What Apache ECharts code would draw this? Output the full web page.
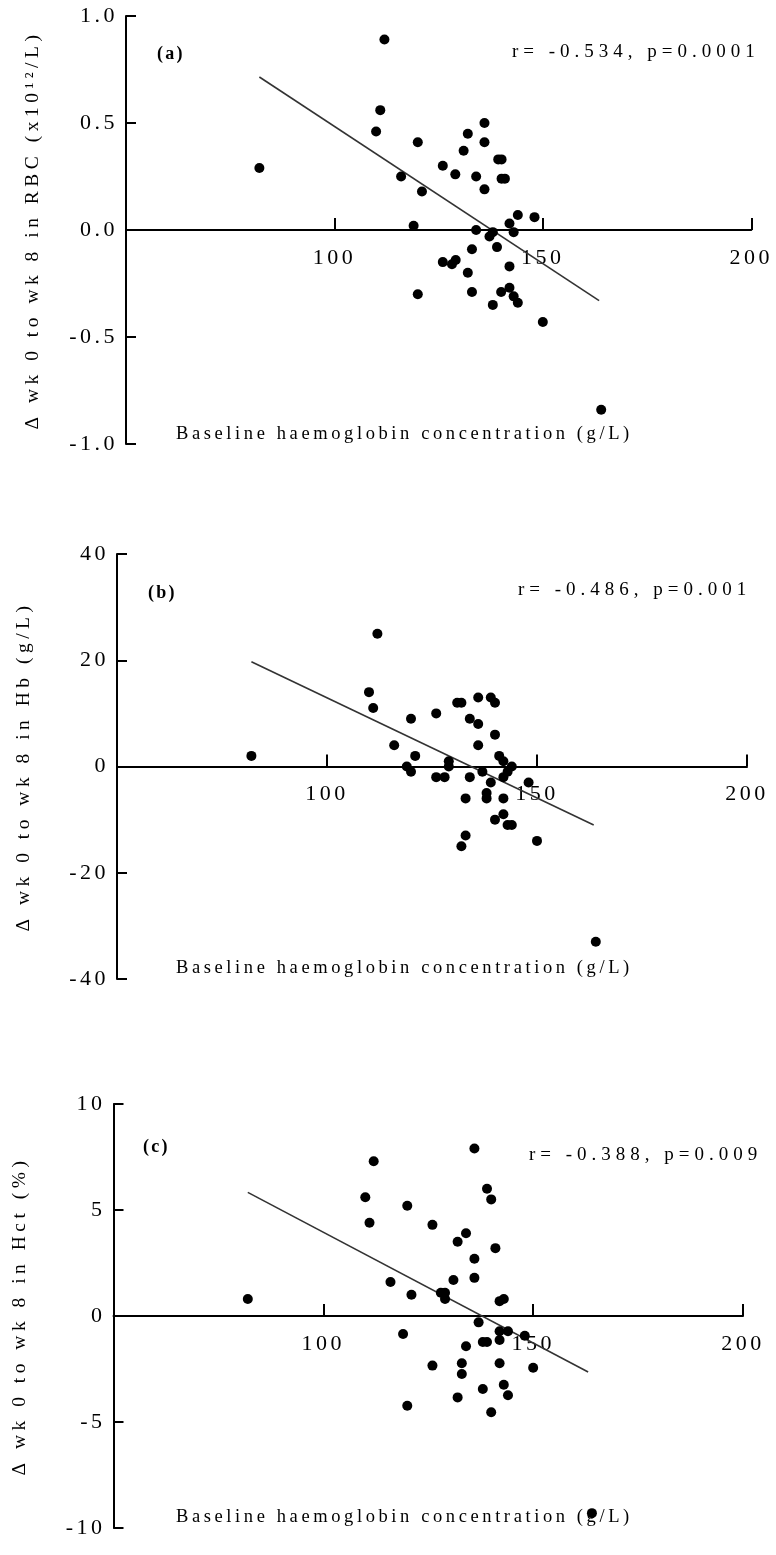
<!DOCTYPE html>
<html><head><meta charset="utf-8">
<script src="https://cdn.jsdelivr.net/npm/echarts@6/dist/echarts.min.js"></script>
<style>html,body{margin:0;padding:0;background:#fff}#c{width:776px;height:1555px}</style>
</head><body><div id="c"></div>
<script>
// ---------- data ----------
const xTicks = [50, 100, 150, 200];
const panelLabels = ['(a)', '(b)', '(c)'];
const statTexts = ['r= -0.534, p=0.0001', 'r= -0.486, p=0.001', 'r= -0.388, p=0.009'];
const yNames = ['\u0394 wk 0 to wk 8 in RBC (x10\u00b9\u00b2/L)', '\u0394 wk 0 to wk 8 in Hb (g/L)', '\u0394 wk 0 to wk 8 in Hct (%)'];
const xName = 'Baseline haemoglobin concentration (g/L)';

const rbcYTicks = [-1.0, -0.5, 0.0, 0.5, 1.0];
const hbYTicks = [-40, -20, 0, 20, 40];
const hctYTicks = [-10, -5, 0, 5, 10];

const rbcBaseline = [82, 112, 111, 110, 120, 132, 136, 136, 131, 126, 129, 134, 139.3, 140.1, 140.1, 140.9, 136, 116, 121, 119, 144, 148, 142, 134, 143, 138, 137.2, 139, 133, 126, 128.2, 129.1, 132, 142, 120, 133, 140, 142, 143, 144, 138, 150, 164];
const rbcChange   = [0.29, 0.89, 0.56, 0.46, 0.41, 0.45, 0.50, 0.41, 0.37, 0.30, 0.26, 0.25, 0.33, 0.33, 0.24, 0.24, 0.19, 0.25, 0.18, 0.02, 0.07, 0.06, 0.03, 0.00, -0.01, -0.01, -0.03, -0.08, -0.09, -0.15, -0.16, -0.14, -0.20, -0.17, -0.30, -0.29, -0.29, -0.27, -0.31, -0.34, -0.35, -0.43, -0.84];

const hbBaseline = [82, 112, 110, 111, 120, 126, 116, 121, 119, 120, 126, 128, 129, 129, 131, 132, 136, 139, 140, 134, 136, 140, 136, 141, 142, 144, 143, 142, 137, 134, 139, 148, 133, 138, 138, 142, 142, 140, 143, 144, 133, 132, 150, 164];
const hbChange   = [2, 25, 14, 11, 9, 10, 4, 2, 0, -1, -2, -2, 1, 0, 12, 12, 13, 13, 12, 9, 8, 6, 4, 2, 1, 0, -1, -2, -1, -2, -3, -3, -6, -5, -6, -6, -9, -10, -11, -11, -13, -15, -14, -33];

const hctBaseline = [136, 112, 110, 111, 120, 126, 139, 140, 134, 132, 141, 136, 136, 131, 116, 121, 128, 129, 129, 82, 142, 143, 137, 119, 142, 144, 148, 138, 139, 142, 134, 126, 133, 133, 142, 150, 143, 138, 144, 132, 120, 140, 164];
const hctChange   = [7.9, 7.3, 5.6, 4.4, 5.2, 4.3, 6.0, 5.5, 3.9, 3.5, 3.2, 2.7, 1.8, 1.7, 1.6, 1.0, 1.1, 1.1, 0.8, 0.8, 0.7, 0.8, -0.3, -0.85, -0.72, -0.72, -0.93, -1.23, -1.23, -1.13, -1.43, -2.34, -2.23, -2.74, -2.23, -2.44, -3.24, -3.44, -3.74, -3.84, -4.23, -4.54, -9.3];

// regression line end points
const rbcFitX = [82, 163.5], rbcFitY = [0.715, -0.33];
const hbFitX = [82, 163.5],  hbFitY = [19.7, -11.0];
const hctFitX = [82, 163.1], hctFitY = [5.83, -2.64];

// ---------- loose letter spacing like the reference typesetting ----------
// keyed by font size (px) -> spacing (px)
const SPACING = { '18': 2.2, '18.5': 3.6, '19': 5.0, '19.5': 4.5, '22': 3.5 };
function applyLS(ctx) {
  const m = /(\d+(?:\.\d+)?)px/.exec(ctx.font || '');
  const key = m ? String(parseFloat(m[1])) : '';
  const sp = SPACING[key] != null ? SPACING[key] : 0;
  try { ctx.letterSpacing = sp + 'px'; } catch (e) {}
}
['fillText', 'strokeText', 'measureText'].forEach(fn => {
  const orig = CanvasRenderingContext2D.prototype[fn];
  CanvasRenderingContext2D.prototype[fn] = function (...a) { applyLS(this); return orig.apply(this, a); };
});

// ---------- chart ----------
const FONT = '"Liberation Serif", "Times New Roman", serif';
const zip = (xs, ys) => xs.map((x, i) => [x, ys[i]]);

const grids = [
  { left: 126, top: 16, width: 626, height: 428 },
  { left: 117, top: 554, width: 630, height: 425 },
  { left: 113, top: 1104, width: 630, height: 424 }
];
const yTickSets = [rbcYTicks, hbYTicks, hctYTicks];
const yFmt = [v => v.toFixed(1), v => String(v), v => String(v)];
const scatterData = [zip(rbcBaseline, rbcChange), zip(hbBaseline, hbChange), zip(hctBaseline, hctChange)];
const fitData = [zip(rbcFitX, rbcFitY), zip(hbFitX, hbFitY), zip(hctFitX, hctFitY)];

const option = {
  backgroundColor: '#fff',
  animation: false,
  grid: grids,
  xAxis: grids.map((g, i) => ({
    gridIndex: i, type: 'value', min: xTicks[0], max: xTicks[xTicks.length - 1], interval: xTicks[1] - xTicks[0],
    position: 'bottom', offset: -g.height / 2,
    axisLine: { show: true, onZero: false, lineStyle: { color: '#000', width: 2 } },
    axisTick: { show: true, inside: true, length: 12, lineStyle: { color: '#000', width: 2 } },
    axisLabel: { show: true, margin: 15, color: '#000', fontFamily: FONT, fontSize: 22,
      formatter: v => (v === xTicks[0] ? '' : String(v)) },
    splitLine: { show: false }
  })),
  yAxis: grids.map((g, i) => ({
    gridIndex: i, type: 'value',
    min: yTickSets[i][0], max: yTickSets[i][yTickSets[i].length - 1], interval: yTickSets[i][1] - yTickSets[i][0],
    axisLine: { show: true, onZero: false, lineStyle: { color: '#000', width: 2 } },
    axisTick: { show: true, inside: true, length: 10, lineStyle: { color: '#000', width: 2 } },
    axisLabel: { show: true, margin: 8, color: '#000', fontFamily: FONT, fontSize: 22, formatter: yFmt[i] },
    splitLine: { show: false },
    name: yNames[i], nameLocation: 'middle', nameRotate: 90, nameGap: 81,
    nameTextStyle: { color: '#000', fontFamily: FONT, fontSize: 19.5 }
  })),
  series: [
    ...scatterData.map((d, i) => ({
      type: 'scatter', xAxisIndex: i, yAxisIndex: i, data: d, symbol: 'circle', symbolSize: 10,
      itemStyle: { color: '#000', opacity: 1 }, silent: true, z: 3
    })),
    ...fitData.map((d, i) => ({
      type: 'line', xAxisIndex: i, yAxisIndex: i, data: d, symbol: 'none',
      lineStyle: { color: '#333', width: 1.6 }, silent: true, z: 2
    }))
  ],
  graphic: [
    { type: 'text', left: 157, top: 44, style: { text: panelLabels[0], font: 'bold 18px ' + FONT, fill: '#000' } },
    { type: 'text', left: 148, top: 583, style: { text: panelLabels[1], font: 'bold 18px ' + FONT, fill: '#000' } },
    { type: 'text', left: 143, top: 1137, style: { text: panelLabels[2], font: 'bold 18px ' + FONT, fill: '#000' } },
    { type: 'text', left: 512, top: 40, style: { text: statTexts[0], font: '19px ' + FONT, fill: '#000' } },
    { type: 'text', left: 518, top: 578, style: { text: statTexts[1], font: '19px ' + FONT, fill: '#000' } },
    { type: 'text', left: 529, top: 1143, style: { text: statTexts[2], font: '19px ' + FONT, fill: '#000' } },
    { type: 'text', left: 176, top: 423, style: { text: xName, font: '18.5px ' + FONT, fill: '#000' } },
    { type: 'text', left: 176, top: 957, style: { text: xName, font: '18.5px ' + FONT, fill: '#000' } },
    { type: 'text', left: 176, top: 1506, style: { text: xName, font: '18.5px ' + FONT, fill: '#000' } }
  ]
};

const chart = echarts.init(document.getElementById('c'), null, { renderer: 'canvas' });
chart.setOption(option);
</script>
</body></html>
